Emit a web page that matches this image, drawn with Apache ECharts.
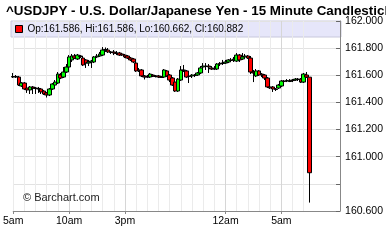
<!DOCTYPE html>
<html><head><meta charset="utf-8">
<script src="https://cdn.jsdelivr.net/npm/echarts@6/dist/echarts.min.js"></script>
<style>html,body{margin:0;padding:0;background:#fff}#c{width:386px;height:252px}</style>
</head><body><div id="c"></div>
<script>
var titleText = '^USDJPY - U.S. Dollar/Japanese Yen - 15 Minute Candlestick Chart';
var startHour = 5; // first candle 5:00am
var totalSlots = 118; // axis extends beyond last candle
var tickIdx = [0, 20, 40, 76, 96];
var tickText = ['5am', '10am', '3pm', '12am', '5am'];
var yMin = 160.6, yMax = 162.0, yStep = 0.2;

var opens = [161.587,161.591,161.587,161.521,161.543,161.506,161.492,161.514,161.506,161.503,
161.499,161.484,161.470,161.455,161.499,161.528,161.543,161.602,161.587,161.624,
161.661,161.713,161.742,161.720,161.742,161.727,161.713,161.690,161.698,161.698,
161.735,161.742,161.749,161.786,161.786,161.772,161.772,161.764,161.764,161.757,
161.749,161.742,161.727,161.720,161.690,161.639,161.639,161.595,161.591,161.587,
161.602,161.595,161.595,161.587,161.587,161.632,161.602,161.580,161.550,161.484,
161.565,161.639,161.632,161.595,161.595,161.602,161.602,161.617,161.661,161.668,
161.668,161.654,161.646,161.646,161.683,161.687,161.690,161.698,161.713,161.713,
161.705,161.749,161.720,161.735,161.742,161.727,161.624,161.595,161.632,161.609,
161.602,161.580,161.514,161.514,161.499,161.506,161.521,161.558,161.558,161.554,
161.565,161.565,161.572,161.572,161.550,161.602,161.586];
var highs = [161.617,161.602,161.595,161.550,161.550,161.521,161.521,161.521,161.514,161.514,
161.506,161.492,161.477,161.506,161.543,161.565,161.624,161.617,161.661,161.683,
161.749,161.757,161.757,161.757,161.749,161.742,161.720,161.713,161.713,161.742,
161.757,161.772,161.808,161.805,161.801,161.779,161.786,161.779,161.772,161.764,
161.757,161.749,161.735,161.727,161.698,161.654,161.646,161.602,161.602,161.617,
161.609,161.602,161.602,161.595,161.646,161.639,161.609,161.587,161.558,161.580,
161.668,161.676,161.639,161.602,161.609,161.609,161.624,161.668,161.690,161.690,
161.683,161.668,161.668,161.690,161.698,161.713,161.713,161.720,161.727,161.735,
161.764,161.757,161.764,161.757,161.749,161.742,161.639,161.646,161.639,161.617,
161.609,161.587,161.528,161.521,161.506,161.536,161.565,161.565,161.572,161.572,
161.572,161.580,161.580,161.580,161.617,161.624,161.586];
var lows = [161.580,161.580,161.521,161.514,161.492,161.470,161.462,161.462,161.462,161.470,
161.462,161.455,161.436,161.447,161.492,161.521,161.536,161.572,161.580,161.617,
161.654,161.698,161.720,161.713,161.727,161.668,161.654,161.668,161.654,161.690,
161.727,161.735,161.742,161.772,161.764,161.757,161.749,161.749,161.742,161.742,
161.727,161.720,161.705,161.690,161.624,161.624,161.587,161.569,161.580,161.580,
161.587,161.584,161.580,161.580,161.580,161.587,161.550,161.521,161.477,161.477,
161.558,161.624,161.580,161.543,161.580,161.587,161.595,161.609,161.632,161.639,
161.617,161.639,161.639,161.639,161.668,161.676,161.683,161.690,161.698,161.698,
161.698,161.698,161.713,161.727,161.720,161.609,161.550,161.587,161.595,161.587,
161.565,161.506,161.499,161.477,161.484,161.499,161.514,161.543,161.550,161.550,
161.550,161.558,161.558,161.543,161.543,161.580,160.662];
var closes = [161.591,161.587,161.528,161.543,161.499,161.492,161.514,161.506,161.503,161.499,
161.477,161.462,161.455,161.499,161.536,161.550,161.609,161.580,161.624,161.661,
161.735,161.742,161.727,161.749,161.738,161.676,161.690,161.698,161.705,161.735,
161.742,161.757,161.786,161.790,161.772,161.768,161.764,161.761,161.749,161.749,
161.735,161.727,161.713,161.698,161.632,161.632,161.595,161.587,161.587,161.609,
161.595,161.591,161.587,161.584,161.639,161.595,161.565,161.528,161.484,161.572,
161.639,161.635,161.587,161.591,161.602,161.598,161.617,161.654,161.668,161.665,
161.661,161.646,161.650,161.683,161.687,161.690,161.698,161.713,161.709,161.720,
161.749,161.713,161.735,161.742,161.727,161.624,161.617,161.632,161.602,161.602,
161.580,161.514,161.506,161.499,161.495,161.528,161.558,161.554,161.561,161.558,
161.561,161.572,161.569,161.550,161.609,161.587,160.882];

var n = opens.length;
var cats = [];
for (var i = 0; i < totalSlots; i++) {
  var m = startHour * 60 + i * 15;
  var h = Math.floor(m / 60) % 24, mm = m % 60;
  cats.push((h < 10 ? '0' : '') + h + ':' + (mm < 10 ? '0' : '') + mm);
}
var candles = [];
for (var j = 0; j < n; j++) candles.push([opens[j], closes[j], lows[j], highs[j]]);
var last = n - 1;
var legendName = 'Op:' + opens[last].toFixed(3) + ', Hi:' + highs[last].toFixed(3) +
  ', Lo:' + lows[last].toFixed(3) + ', Cl:' + closes[last].toFixed(3);

var chart = echarts.init(document.getElementById('c'), null, {renderer: 'canvas'});
var FONT = 'Liberation Sans, Arial, sans-serif';
chart.setOption({
  animation: false,
  textStyle: {fontFamily: FONT},
  title: {text: titleText, left: 1, top: 0,
    textStyle: {fontSize: 13.4, fontWeight: 'bold', color: '#000', fontFamily: FONT}},
  grid: {left: 11, right: 45, top: 21, bottom: 41},
  legend: {data: [{name: legendName, icon: 'rect', itemStyle: {color: '#ff0000', borderColor: '#000', borderWidth: 1}}],
    left: 15, top: 24, itemWidth: 7, itemHeight: 7, itemGap: 4,
    padding: 0, textStyle: {fontSize: 10, color: '#000', fontFamily: FONT}},
  graphic: [
    {type: 'rect', z: -10, shape: {x: 11, y: 21, width: 330, height: 16},
      style: {fill: '#e6e6fa', stroke: '#c8c8dc', lineWidth: 1}},
    {type: 'text', left: 23, top: 192, z: 100,
      style: {text: '\u00a9 Barchart.com', fontSize: 11, fill: '#222', fontFamily: FONT}}
  ],
  xAxis: [{
    type: 'category', data: cats, boundaryGap: false,
    axisLine: {lineStyle: {color: '#888'}},
    axisTick: {show: true, length: 3, lineStyle: {color: '#888'},
      interval: function (idx) { return tickIdx.indexOf(idx) >= 0; }},
    axisLabel: {fontSize: 10.5, color: '#000', margin: 5, fontFamily: FONT,
      interval: function (idx) { return tickIdx.indexOf(idx) >= 0; },
      formatter: function (v, idx) { var k = tickIdx.indexOf(idx); return k >= 0 ? tickText[k] : ''; }},
    splitLine: {show: true, lineStyle: {color: '#ebebeb', width: 1},
      interval: function (idx) { return idx % 4 === 0 && idx < n; }}
  }, {
    type: 'category', data: cats, boundaryGap: false, position: 'bottom',
    axisLine: {show: false}, axisTick: {show: false}, axisLabel: {show: false},
    splitLine: {show: true, lineStyle: {color: '#d6d6d6', width: 1},
      interval: function (idx) { return tickIdx.indexOf(idx) >= 0 && idx > 0; }}
  }],
  yAxis: {
    type: 'value', position: 'right', min: yMin, max: yMax, interval: yStep, scale: true,
    axisLine: {show: true, lineStyle: {color: '#888'}},
    axisTick: {show: true, inside: true, length: 4, lineStyle: {color: '#666'}},
    axisLabel: {fontSize: 10.5, color: '#000', margin: 5, fontFamily: FONT,
      formatter: function (v) { return Math.abs(v - 160.8) < 1e-6 ? '' : v.toFixed(3); }},
    splitLine: {show: true, lineStyle: {color: '#e2e2e2'}}
  },
  series: [{
    name: legendName, type: 'candlestick', data: candles, barWidth: 4,
    itemStyle: {color: '#00ff00', color0: '#ff0000', borderColor: '#000', borderColor0: '#000', borderWidth: 1},
    markLine: {
      silent: true, symbol: 'none', animation: false,
      lineStyle: {opacity: 0},
      data: [{yAxis: closes[last]}],
      label: {show: true, position: 'end', distance: 4, formatter: closes[last].toFixed(3),
        backgroundColor: '#000', color: '#fff', fontSize: 10.5, padding: [2, 1, 1, 1], fontFamily: FONT}
    }
  }]
});
</script></body></html>
